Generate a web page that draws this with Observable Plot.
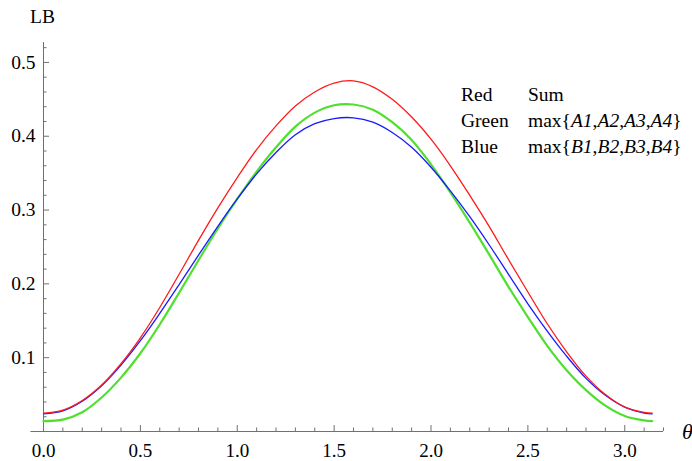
<!DOCTYPE html>
<html>
<head>
<meta charset="utf-8">
<script src="https://cdn.jsdelivr.net/npm/d3@7"></script>
<script src="https://cdn.jsdelivr.net/npm/@observablehq/plot@0.6"></script>
<style>
  body { margin: 0; background: #fff; }
  #wrap { position: relative; width: 692px; height: 461px; font-family: "Liberation Serif", "Times New Roman", serif; }
  #wrap svg text { font-family: "Liberation Serif", "Times New Roman", serif; }
  #legend { position: absolute; left: 461px; top: 82px; font-size: 19.5px; line-height: 25.8px; color: #000; border-collapse: collapse; }
  #legend td { padding: 0; white-space: nowrap; }
  #legend td.k { width: 67px; }
  #legend i { font-style: italic; }
</style>
</head>
<body>
<div id="wrap"></div>
<script>
// θ sample positions (radians)
const theta = [0, 0.1, 0.2, 0.3, 0.4, 0.5, 0.6, 0.7, 0.8, 0.9, 1.0, 1.1, 1.2, 1.3, 1.4, 1.5,
               1.6, 1.7, 1.8, 1.9, 2.0, 2.1, 2.2, 2.3, 2.4, 2.5, 2.6, 2.7, 2.8, 2.9, 3.0, 3.1, 3.1416];
// Red: Sum
const redLB = [0.025, 0.029, 0.042, 0.063, 0.092, 0.127, 0.168, 0.213, 0.259, 0.303, 0.344, 0.382, 0.414, 0.441, 0.460, 0.472,
               0.475, 0.467, 0.450, 0.426, 0.396, 0.360, 0.320, 0.278, 0.233, 0.189, 0.146, 0.108, 0.075, 0.050, 0.033, 0.026, 0.025];
// Green: max{A1,A2,A3,A4}
const greenLB = [0.014, 0.016, 0.026, 0.046, 0.073, 0.106, 0.145, 0.188, 0.232, 0.275, 0.315, 0.352, 0.385, 0.413, 0.432, 0.442,
                 0.443, 0.436, 0.419, 0.395, 0.362, 0.324, 0.283, 0.240, 0.196, 0.155, 0.116, 0.083, 0.056, 0.035, 0.021, 0.015, 0.014];
// Blue: max{B1,B2,B3,B4}
const blueLB = [0.024, 0.028, 0.041, 0.062, 0.090, 0.123, 0.160, 0.199, 0.239, 0.278, 0.315, 0.349, 0.378, 0.402, 0.417, 0.424,
                0.425, 0.419, 0.405, 0.385, 0.358, 0.326, 0.291, 0.253, 0.213, 0.173, 0.136, 0.102, 0.072, 0.049, 0.033, 0.025, 0.024];

const seriesNames = ["Green", "Blue", "Red"];
const seriesColors = ["#4fe02f", "#1a1aff", "#ff1a1a"];
const seriesWidths = [2.2, 1.3, 1.3];

// axis ticks
const xMajorTicks = [0, 0.5, 1.0, 1.5, 2.0, 2.5, 3.0];
const xMinorTicks = [0.1, 0.2, 0.3, 0.4, 0.6, 0.7, 0.8, 0.9, 1.1, 1.2, 1.3, 1.4, 1.6, 1.7, 1.8, 1.9,
                     2.1, 2.2, 2.3, 2.4, 2.6, 2.7, 2.8, 2.9, 3.1, 3.2];
const yMajorTicks = [0.1, 0.2, 0.3, 0.4, 0.5];
const yMinorTicks = [0.02, 0.04, 0.06, 0.08, 0.12, 0.14, 0.16, 0.18, 0.22, 0.24, 0.26, 0.28,
                     0.32, 0.34, 0.36, 0.38, 0.42, 0.44, 0.46, 0.48, 0.52];

const seriesValues = { Green: greenLB, Blue: blueLB, Red: redLB };
const rows = [];
for (const name of seriesNames) {
  seriesValues[name].forEach((v, i) => rows.push({ theta: theta[i], LB: v, series: name }));
}

const axisColor = "#707070";
const font = '"Liberation Serif", "Times New Roman", serif';
const fmt = d3.format(".1f");

const chart = Plot.plot({
  width: 692,
  height: 461,
  marginLeft: 43,
  marginRight: 29,
  marginTop: 42,
  marginBottom: 30,
  style: { fontFamily: font, fontSize: "19px", background: "white", color: "black" },
  x: { domain: [0, 3.2] },
  y: { domain: [0, 0.527] },
  marks: [
    Plot.ruleY([0], { x1: -0.065, x2: 3.2, stroke: axisColor, strokeWidth: 1 }),
    Plot.ruleX([0], { y1: 0, y2: 0.527, stroke: axisColor, strokeWidth: 1 }),
    Plot.axisX(xMinorTicks, { tickSize: -3.5, tickFormat: () => "", stroke: axisColor, label: null }),
    Plot.axisX(xMajorTicks, { tickSize: -6, tickFormat: () => "", stroke: axisColor, label: null }),
    Plot.axisY(yMinorTicks, { tickSize: -3.5, tickFormat: () => "", stroke: axisColor, label: null }),
    Plot.axisY(yMajorTicks, { tickSize: -6, tickFormat: () => "", stroke: axisColor, label: null }),
    Plot.text(xMajorTicks, { x: d => d, frameAnchor: "bottom", lineAnchor: "middle", dy: 19, text: d => fmt(d), textAnchor: "middle",
      fontFamily: font, fontSize: 19, fill: "black" }),
    Plot.text(yMajorTicks, { y: d => d, frameAnchor: "left", lineAnchor: "middle", dx: -8, text: d => fmt(d), textAnchor: "end",
      fontFamily: font, fontSize: 19.5, fill: "black" }),
    ...seriesNames.map((name, k) =>
      Plot.line(rows.filter(d => d.series === name), {
        x: "theta", y: "LB", stroke: seriesColors[k], strokeWidth: seriesWidths[k], curve: "catmull-rom"
      })
    ),
    Plot.text(["LB"], { frameAnchor: "top-left", lineAnchor: "middle", dx: -1, dy: -26, textAnchor: "middle", fontFamily: font, fontSize: 19.5, fill: "black" }),
    Plot.text(["θ"], { frameAnchor: "bottom-right", lineAnchor: "middle", dx: 24, dy: 0, textAnchor: "middle", fontStyle: "italic", fontFamily: font, fontSize: 22, fill: "black" })
  ]
});

const wrap = document.getElementById("wrap");
wrap.appendChild(chart);

// legend
const legendKeys = ["Red", "Green", "Blue"];
const legendDescs = [
  "Sum",
  "max{<i>A1</i>,<i>A2</i>,<i>A3</i>,<i>A4</i>}",
  "max{<i>B1</i>,<i>B2</i>,<i>B3</i>,<i>B4</i>}"
];
const table = document.createElement("table");
table.id = "legend";
legendKeys.forEach((k, i) => {
  const tr = document.createElement("tr");
  tr.innerHTML = `<td class="k">${k}</td><td>${legendDescs[i]}</td>`;
  table.appendChild(tr);
});
wrap.appendChild(table);
</script>
</body>
</html>
